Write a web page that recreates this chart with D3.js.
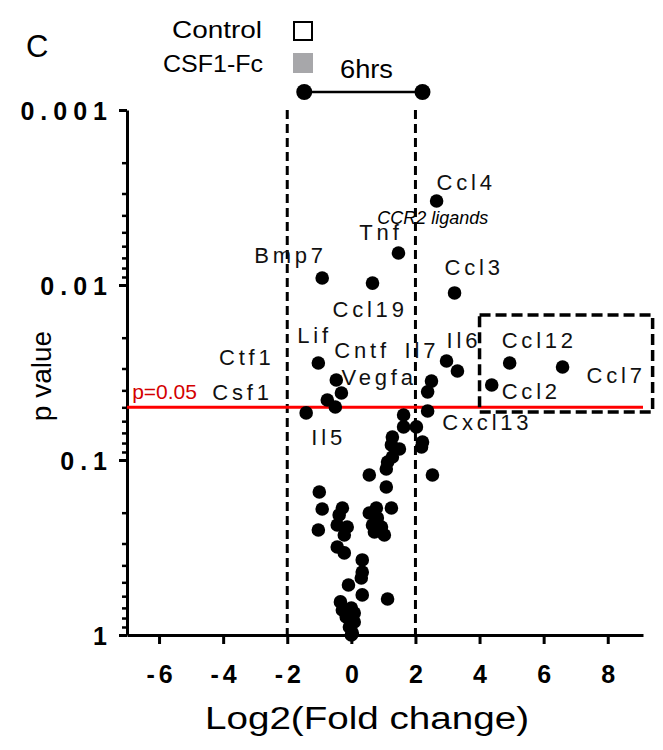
<!DOCTYPE html>
<html>
<head>
<meta charset="utf-8">
<script src="https://cdn.jsdelivr.net/npm/d3@7"></script>
<style>
body { margin: 0; background: #fff; }
text { font-family: "Liberation Sans", Arial, sans-serif; }
</style>
</head>
<body>
<script>
// every point: log2 fold change and p value
const lfc = [2.66, 1.47, -0.91, 0.66, 3.22, -1.03, -0.47, -0.31, -0.75, -0.5, -1.41,
  2.5, 2.38, 2.38, 2.97, 3.31, 4.94, 6.59, 4.38,
  1.63, 1.63, 2.03, 1.28, 1.25, 1.5, 2.22, 2.19, 1.28, 1.13, 1.09, 0.56, 2.53, 1.09,
  -1.0, -0.91, -0.28, -0.38, 1.25, 0.78, 0.56, 0.81, 0.66, 0.94, 1.03, 0.72, -1.03,
  -0.44, -0.13, -0.22, -0.44, -0.22, 0.34, 0.34, 0.31, -0.09, 0.34, 1.13, -0.34,
  -0.28, 0.0, 0.09, -0.16, 0.09, -0.06, 0.03, 0.0];
const pval = [0.00331, 0.00656, 0.00912, 0.00975, 0.0111, 0.0279, 0.0349, 0.0414, 0.0454, 0.0498, 0.0538,
  0.0354, 0.0408, 0.0525, 0.0272, 0.031, 0.0279, 0.0294, 0.0373,
  0.0553, 0.0647, 0.0647, 0.074, 0.082, 0.0865, 0.0789, 0.0843, 0.0962, 0.1026, 0.1125, 0.1219, 0.1219, 0.1426,
  0.1524, 0.1905, 0.1879, 0.206, 0.1879, 0.1879, 0.201, 0.2143, 0.235, 0.2415, 0.2685, 0.2576, 0.2512,
  0.235, 0.2415, 0.2685, 0.314, 0.3396, 0.3724, 0.4365, 0.4721, 0.5176, 0.5902, 0.6223, 0.6471,
  0.7194, 0.7015, 0.7482, 0.7889, 0.8433, 0.8995, 0.975, 1.0];

// gene labels, anchored in data units (left edge, baseline)
const labelText = ['Ccl4', 'Tnf', 'Bmp7', 'Ccl3', 'Ccl19', 'Lif', 'Cntf', 'Il7', 'Il6', 'Ccl12',
  'Ctf1', 'Vegfa', 'Csf1', 'Ccl7', 'Ccl2', 'Cxcl13', 'Il5'];
const labelLfc = [2.66, 0.25, -3.03, 2.91, -0.59, -1.69, -0.53, 1.66, 2.97, 4.69,
  -4.13, -0.31, -4.34, 7.34, 4.69, 2.84, -1.25];
const labelPval = [0.00286, 0.00553, 0.00748, 0.00877, 0.01524, 0.02144, 0.02612, 0.02612, 0.02291, 0.02291,
  0.02864, 0.03728, 0.04541, 0.0363, 0.04477, 0.06743, 0.0821];

const xTicks = [-6, -4, -2, 0, 2, 4, 6, 8];
const yTicks = [1, 0.1, 0.01, 0.001];
const yTickLabels = ['1', '0.1', '0.01', '0.001'];
const foldCut = [-2, 2];
const pCut = 0.05;
const boxLfc = [4.0, 9.4];
const boxPval = [0.01484, 0.0532];
const bracketLfc = [-1.47, 2.22];

const width = 663, height = 750;
const margin = { top: 110, right: 20, bottom: 115, left: 127 };

const svg = d3.select('body').append('svg')
  .attr('width', width)
  .attr('height', height);

const x = d3.scaleLinear()
  .domain([-7, 9.1])
  .range([margin.left, width - margin.right]);
const y = d3.scaleLog()
  .domain([1, 0.001])
  .range([height - margin.bottom, margin.top]);

// minor log ticks
const minor = [];
[0.001, 0.01, 0.1].forEach(d => { for (let k = 2; k <= 9; k++) minor.push(d * k); });

svg.append('g')
  .attr('transform', `translate(${margin.left},0)`)
  .call(d3.axisLeft(y).tickValues(minor).tickSize(5).tickFormat(''))
  .call(g => g.select('.domain').remove())
  .call(g => g.selectAll('line').attr('stroke-width', 2.5));

const yAxis = svg.append('g')
  .attr('transform', `translate(${margin.left},0)`)
  .call(d3.axisLeft(y).tickValues(yTicks).tickSize(8).tickSizeOuter(0)
    .tickFormat((d, i) => yTickLabels[i]));
yAxis.select('.domain').attr('stroke-width', 3);
yAxis.selectAll('line').attr('stroke-width', 3);
yAxis.selectAll('text')
  .attr('x', -14)
  .attr('dy', '0.36em')
  .style('font-size', '25px')
  .style('font-weight', 'bold')
  .style('letter-spacing', '6px')
  .attr('fill', '#000');

const xAxis = svg.append('g')
  .attr('transform', `translate(0,${height - margin.bottom})`)
  .call(d3.axisBottom(x).tickValues(xTicks).tickSize(9).tickSizeOuter(0)
    .tickFormat(d => String(d)));
xAxis.select('.domain').attr('stroke-width', 3);
xAxis.selectAll('line').attr('stroke-width', 3);
xAxis.selectAll('text')
  .attr('y', 30)
  .attr('dy', '0.71em')
  .attr('dx', '2px')
  .style('font-size', '25px')
  .style('font-weight', 'bold')
  .style('letter-spacing', '4px')
  .attr('fill', '#000');

// fold change cut-offs
svg.selectAll('.cut').data(foldCut).enter().append('line')
  .attr('x1', d => x(d)).attr('x2', d => x(d))
  .attr('y1', y(0.001)).attr('y2', y(1))
  .attr('stroke', '#000').attr('stroke-width', 3)
  .attr('stroke-dasharray', '9,5');

// p = 0.05 line
svg.append('line')
  .attr('x1', x(-7)).attr('x2', x(9.1))
  .attr('y1', y(pCut)).attr('y2', y(pCut))
  .attr('stroke', '#ff0000').attr('stroke-width', 3);
svg.append('text')
  .attr('x', x(-6.84)).attr('y', y(0.0447))
  .attr('fill', '#d40000')
  .style('font-size', '21px')
  .text('p=0.05');

// CCR2 ligand box
svg.append('rect')
  .attr('x', x(boxLfc[0])).attr('y', y(boxPval[0]))
  .attr('width', x(boxLfc[1]) - x(boxLfc[0]))
  .attr('height', y(boxPval[1]) - y(boxPval[0]))
  .attr('fill', 'none').attr('stroke', '#000').attr('stroke-width', 3.5)
  .attr('stroke-dasharray', '11,5');

// points
svg.selectAll('circle.pt').data(lfc.map((d, i) => [d, pval[i]]))
  .enter().append('circle')
  .attr('class', 'pt')
  .attr('cx', d => x(d[0]))
  .attr('cy', d => y(d[1]))
  .attr('r', 6.8)
  .attr('fill', '#000');

svg.selectAll('text.gene').data(labelText)
  .enter().append('text')
  .attr('class', 'gene')
  .attr('x', (d, i) => x(labelLfc[i]))
  .attr('y', (d, i) => y(labelPval[i]))
  .style('font-size', '22px')
  .style('letter-spacing', '3.8px')
  .attr('fill', '#111')
  .text(d => d);

svg.append('text')
  .attr('x', x(0.81)).attr('y', y(0.00448))
  .style('font-size', '18px')
  .style('font-style', 'italic')
  .text('CCR2 ligands');

// axis titles
svg.append('text')
  .attr('x', 205).attr('y', 729)
  .attr('textLength', 324)
  .attr('lengthAdjust', 'spacingAndGlyphs')
  .style('font-size', '31px')
  .text('Log2(Fold change)');
svg.append('text')
  .attr('transform', 'translate(51,376) rotate(-90)')
  .attr('text-anchor', 'middle')
  .style('font-size', '28px')
  .text('p value');

// panel letter, legend and time bracket
svg.append('text').attr('x', 26).attr('y', 57).style('font-size', '31px').text('C');
svg.append('text').attr('x', 172).attr('y', 38)
  .attr('textLength', 90).attr('lengthAdjust', 'spacingAndGlyphs')
  .style('font-size', '24px').text('Control');
svg.append('text').attr('x', 163).attr('y', 72)
  .attr('textLength', 100).attr('lengthAdjust', 'spacingAndGlyphs')
  .style('font-size', '24px').text('CSF1-Fc');
svg.append('rect').attr('x', 294).attr('y', 22).attr('width', 18).attr('height', 18)
  .attr('fill', '#fff').attr('stroke', '#000').attr('stroke-width', 2);
svg.append('rect').attr('x', 293).attr('y', 53).attr('width', 20).attr('height', 20)
  .attr('fill', '#a7a7aa');
svg.append('text').attr('x', 340).attr('y', 78)
  .attr('textLength', 53).attr('lengthAdjust', 'spacingAndGlyphs')
  .style('font-size', '25px').text('6hrs');

svg.append('line')
  .attr('x1', x(bracketLfc[0])).attr('x2', x(bracketLfc[1]))
  .attr('y1', 92).attr('y2', 92)
  .attr('stroke', '#000').attr('stroke-width', 2.5);
svg.selectAll('circle.br').data(bracketLfc).enter().append('circle')
  .attr('class', 'br')
  .attr('cx', d => x(d)).attr('cy', 92).attr('r', 8)
  .attr('fill', '#000');
</script>
</body>
</html>
